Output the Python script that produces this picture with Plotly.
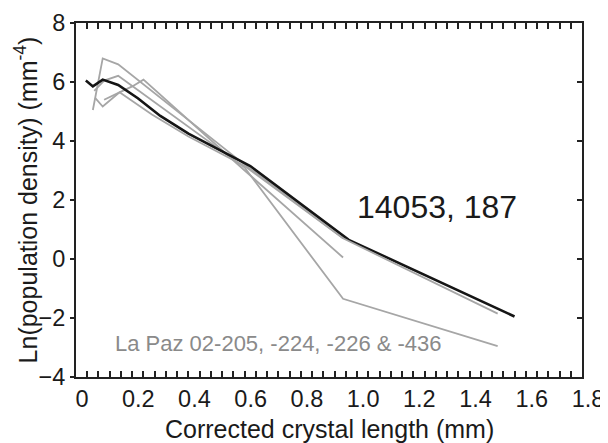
import plotly.graph_objects as go

# Data
black_x = [0.035, 0.06, 0.095, 0.15, 0.22, 0.30, 0.40, 0.50, 0.62, 0.97, 1.56]
black_y = [6.05, 5.85, 6.08, 5.90, 5.45, 4.85, 4.25, 3.75, 3.15, 0.65, -1.95]

gray_a_x = [0.06, 0.095, 0.15, 0.60, 0.95]
gray_a_y = [5.05, 6.80, 6.60, 3.20, 0.70]

gray_b_x = [0.068, 0.095, 0.155, 0.20, 0.24, 0.60, 0.95]
gray_b_y = [5.46, 5.17, 5.65, 5.85, 6.08, 3.00, 0.05]

gray_c_x = [0.065, 0.10, 0.15, 0.60, 0.95, 1.50]
gray_c_y = [5.70, 6.05, 6.21, 3.10, -1.35, -2.95]

gray_d_x = [0.10, 0.155, 0.27, 0.40, 0.60, 0.95, 1.50]
gray_d_y = [5.40, 5.65, 4.90, 4.15, 3.15, 0.70, -1.85]

x_ticks = [0, 0.2, 0.4, 0.6, 0.8, 1.0, 1.2, 1.4, 1.6, 1.8]
x_tick_text = ["0", "0.2", "0.4", "0.6", "0.8", "1.0", "1.2", "1.4", "1.6", "1.8"]
y_ticks = [-4, -2, 0, 2, 4, 6, 8]

FONT = "Liberation Sans, Arial, sans-serif"
GRAY = "#a6a6a6"
AX = "#222222"

fig = go.Figure()
for gx, gy, ya in [(gray_a_x, gray_a_y, "y"), (gray_b_x, gray_b_y, "y"),
                   (gray_c_x, gray_c_y, "y"), (gray_d_x, gray_d_y, "y2")]:
    fig.add_trace(go.Scatter(x=gx, y=gy, mode="lines", yaxis=ya,
                             line=dict(color=GRAY, width=1.8), showlegend=False))
fig.add_trace(go.Scatter(x=black_x, y=black_y, mode="lines",
                         line=dict(color="#151515", width=2.6), showlegend=False))

fig.add_annotation(x=1.285, y=1.77, text="14053, 187", showarrow=False,
                   font=dict(family=FONT, size=32, color="#1a1a1a"))
fig.add_annotation(x=0.719, y=-2.87, text="La Paz 02-205, -224, -226 & -436", showarrow=False,
                   font=dict(family=FONT, size=22, color="#8a8a8a"))
# axis titles
fig.add_annotation(xref="paper", yref="paper", x=0.5, y=-0.148, yanchor="middle",
                   text="Corrected crystal length (mm)", showarrow=False,
                   font=dict(family=FONT, size=25, color="#1a1a1a"))
fig.add_annotation(xref="paper", yref="paper", x=-0.098, y=0.5, xanchor="center",
                   textangle=-90, text="Ln(population density) (mm<sup>-4</sup>)", showarrow=False,
                   font=dict(family=FONT, size=25, color="#1a1a1a"))

fig.update_layout(
    width=600, height=435,
    margin=dict(l=68, r=26, t=15, b=66),
    paper_bgcolor="white", plot_bgcolor="rgba(0,0,0,0)",
    font=dict(family=FONT, size=23.5, color="#1a1a1a"),
    xaxis=dict(range=[0, 1.8], tickmode="array", tickvals=x_ticks, ticktext=x_tick_text,
               ticks="inside", ticklen=6, tickwidth=1.8, tickcolor=AX,
               showline=True, linewidth=2, linecolor=AX, mirror="allticks",
               showgrid=False, zeroline=False, ticklabelshift=6, automargin=False,
               minor=dict(tickmode="linear", tick0=0, dtick=0.04, ticks="inside",
                          ticklen=3.5, tickcolor=AX, tickwidth=1.5, showgrid=False)),
    yaxis=dict(range=[-4, 8], tickvals=y_ticks, ticks="outside", ticklen=4, tickwidth=2,
               tickcolor=AX, showline=True, linewidth=2, linecolor=AX,
               showgrid=False, zeroline=False, automargin=False),
    yaxis2=dict(range=[-4, 8], overlaying="y", side="right", matches="y", tickvals=y_ticks,
                ticks="inside", ticklen=5, tickwidth=2, tickcolor=AX,
                showline=True, linewidth=2, linecolor=AX, showticklabels=False,
                showgrid=False, zeroline=False, automargin=False),
)

fig.write_html("out.html")
